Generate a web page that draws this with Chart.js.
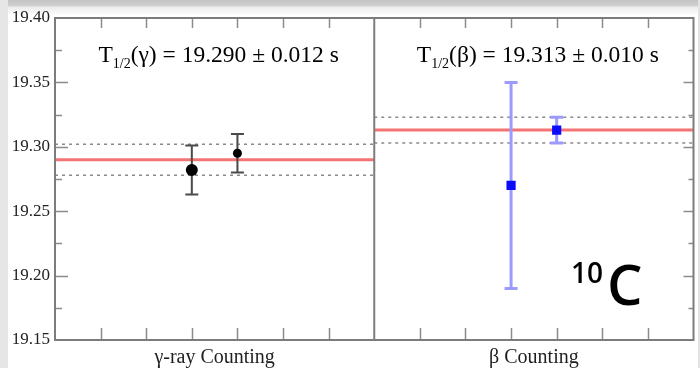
<!DOCTYPE html>
<html>
<head>
<meta charset="utf-8">
<style>
html,body{margin:0;padding:0;background:#fff;overflow:hidden}
canvas{display:block}
</style>
<script src="https://cdn.jsdelivr.net/npm/chart.js@4.4.0/dist/chart.umd.min.js"></script>
</head>
<body>
<canvas id="c" width="700" height="368"></canvas>
<script>
// ---- data ----
const categories = ['γ-ray Counting', 'β Counting'];
const panelSymbols = ['γ', 'β'];
const panelCenters = [3.5, 10.5];
const panelBounds = [[0, 7], [7, 14]];

const gammaX = [3, 4];
const gammaY = [19.282, 19.295];
const gammaErr = [0.019, 0.015];

const betaX = [10, 11];
const betaY = [19.270, 19.313];
const betaErr = [0.080, 0.010];

const fitValues = [19.290, 19.313];
const fitErrors = [0.012, 0.010];

const yMin = 19.15, yMax = 19.40, yStep = 0.05;
const annotationMass = '10';
const annotationElement = 'C';

// ---- helpers ----
const pts = (xs, ys) => xs.map((x, i) => ({x, y: ys[i]}));
const hline = (b, v) => [{x: b[0], y: v}, {x: b[1], y: v}];

const datasets = [
  {label: 'γ', data: pts(gammaX, gammaY), errors: gammaErr, errColor: '#4a4a4a', errWidth: 2, capHalf: 6.5,
   pointStyle: 'circle', pointRadius: [6, 4.5], backgroundColor: '#000', borderColor: '#000', borderWidth: 0, showLine: false},
  {label: 'β', data: pts(betaX, betaY), errors: betaErr, errColor: '#9a9aff', errWidth: 3, capHalf: 6.5,
   pointStyle: 'rect', pointRadius: 6.5, backgroundColor: '#0a0aff', borderColor: '#0a0aff', borderWidth: 0, showLine: false}
];
fitValues.forEach((v, i) => {
  const b = panelBounds[i];
  datasets.push({label: 'fit' + i, data: hline(b, v), showLine: true, pointRadius: 0,
    borderColor: 'rgba(240,70,70,0.75)', borderWidth: 3});
  datasets.push({label: 'hi' + i, data: hline(b, v + fitErrors[i]), showLine: true, pointRadius: 0,
    borderColor: '#8a8a8a', borderWidth: 1.5, borderDash: [3, 4]});
  datasets.push({label: 'lo' + i, data: hline(b, v - fitErrors[i]), showLine: true, pointRadius: 0,
    borderColor: '#8a8a8a', borderWidth: 1.5, borderDash: [3, 4]});
});

const bgPlugin = {
  id: 'bg',
  beforeDraw(chart) {
    const ctx = chart.ctx, W = chart.width, H = chart.height;
    ctx.save();
    ctx.fillStyle = '#ffffff';
    ctx.fillRect(0, 0, W, H);
    const g = ctx.createLinearGradient(0, 0, 0, 14);
    g.addColorStop(0, '#c4c4c4');
    g.addColorStop(0.4, '#cfcfcf');
    g.addColorStop(0.5, '#ececec');
    g.addColorStop(1, '#fafafa');
    ctx.fillStyle = g;
    ctx.fillRect(0, 0, W, 14);
    ctx.fillStyle = '#e6e6e6';
    ctx.fillRect(0, 0, 8, H);
    ctx.fillStyle = '#e2e2e2';
    ctx.fillRect(W - 2, 0, 2, H);
    ctx.restore();
  }
};

const errPlugin = {
  id: 'errbars',
  beforeDatasetDraw(chart, args) {
    const ds = chart.data.datasets[args.index];
    if (!ds.errors) return;
    const ctx = chart.ctx, xs = chart.scales.x, ys = chart.scales.y;
    ctx.save();
    ctx.strokeStyle = ds.errColor;
    ctx.lineWidth = ds.errWidth;
    ds.data.forEach((p, i) => {
      const x = xs.getPixelForValue(p.x);
      const y1 = ys.getPixelForValue(p.y + ds.errors[i]);
      const y2 = ys.getPixelForValue(p.y - ds.errors[i]);
      ctx.beginPath();
      ctx.moveTo(x, y1); ctx.lineTo(x, y2);
      ctx.moveTo(x - ds.capHalf, y1); ctx.lineTo(x + ds.capHalf, y1);
      ctx.moveTo(x - ds.capHalf, y2); ctx.lineTo(x + ds.capHalf, y2);
      ctx.stroke();
    });
    ctx.restore();
  }
};

const framePlugin = {
  id: 'frame',
  afterDatasetsDraw(chart) {
    const ctx = chart.ctx, ca = chart.chartArea, xs = chart.scales.x, ys = chart.scales.y;
    ctx.save();
    ctx.strokeStyle = '#8c8c8c';
    ctx.lineWidth = 1.5;
    ctx.beginPath();
    const nMinor = Math.round((yMax - yMin) / (yStep / 2));
    for (let i = 1; i < nMinor; i++) {
      const y = Math.round(ys.getPixelForValue(yMin + i * yStep / 2)) + 0.5;
      const major = i % 2 === 0;
      ctx.moveTo(ca.left, y); ctx.lineTo(ca.left + (major ? 13 : 7), y);
      ctx.moveTo(ca.right, y); ctx.lineTo(ca.right - (major ? 10 : 5), y);
    }
    for (let v = xs.min + 1; v < xs.max; v++) {
      if (v === panelBounds[0][1]) continue;
      const x = Math.round(xs.getPixelForValue(v)) + 0.5;
      ctx.moveTo(x, ca.bottom); ctx.lineTo(x, ca.bottom - 12);
      ctx.moveTo(x, ca.top); ctx.lineTo(x, ca.top + 10);
    }
    ctx.stroke();
    ctx.strokeStyle = '#7c7c7c';
    ctx.lineWidth = 2;
    ctx.strokeRect(ca.left, ca.top, ca.right - ca.left, ca.bottom - ca.top);
    const xd = xs.getPixelForValue(panelBounds[0][1]);
    ctx.beginPath();
    ctx.moveTo(xd, ca.top); ctx.lineTo(xd, ca.bottom);
    ctx.stroke();
    ctx.restore();
  },
  afterDraw(chart) {
    const ctx = chart.ctx, xs = chart.scales.x, ca = chart.chartArea;
    ctx.save();
    ctx.fillStyle = '#000';
    ctx.textBaseline = 'alphabetic';
    const mainFont = '23.5px "Liberation Serif"', subFont = '14px "Liberation Serif"';
    panelCenters.forEach((c, i) => {
      const parts = [
        {t: 'T', f: mainFont, dy: 0},
        {t: '1/2', f: subFont, dy: 6},
        {t: '(' + panelSymbols[i] + ') = ' + fitValues[i].toFixed(3) + ' ± ' + fitErrors[i].toFixed(3) + ' s', f: mainFont, dy: 0}
      ];
      let w = 0;
      parts.forEach(p => { ctx.font = p.f; p.w = ctx.measureText(p.t).width; w += p.w; });
      let x = xs.getPixelForValue(c) - w / 2 + 4;
      const base = ca.top + 44;
      parts.forEach(p => { ctx.font = p.f; ctx.fillText(p.t, x, base + p.dy); x += p.w; });
    });
    ctx.fillStyle = '#000';
    ctx.font = '600 28px "Open Sans"';
    ctx.fillText(annotationMass, 571, 283);
    ctx.font = '600 56px "Open Sans"';
    ctx.fillText(annotationElement, 607, 305);
    ctx.restore();
  }
};

new Chart(document.getElementById('c'), {
  type: 'scatter',
  data: {datasets},
  options: {
    responsive: false,
    animation: false,
    devicePixelRatio: 1,
    layout: {padding: {top: 18, right: 3, left: 0, bottom: 0}},
    plugins: {legend: {display: false}, tooltip: {enabled: false}},
    scales: {
      x: {
        type: 'linear', min: 0, max: 14,
        grid: {display: false, drawTicks: false},
        border: {display: false},
        afterBuildTicks: s => { s.ticks = panelCenters.map(v => ({value: v})); },
        afterFit: s => { s.height = 28; },
        ticks: {
          padding: 6, maxRotation: 0, autoSkip: false,
          color: '#1e1e1e', font: {family: 'Liberation Serif', size: 20},
          callback: (v) => categories[panelCenters.indexOf(v)] ?? ''
        }
      },
      y: {
        type: 'linear', min: yMin, max: yMax,
        grid: {display: false, drawTicks: false},
        border: {display: false},
        afterFit: s => { s.width = 55; },
        ticks: {
          stepSize: yStep, padding: 5, autoSkip: false,
          color: '#222', font: {family: 'Liberation Serif', size: 17},
          callback: v => Number(v).toFixed(2)
        }
      }
    }
  },
  plugins: [bgPlugin, errPlugin, framePlugin]
});
</script>
</body>
</html>
